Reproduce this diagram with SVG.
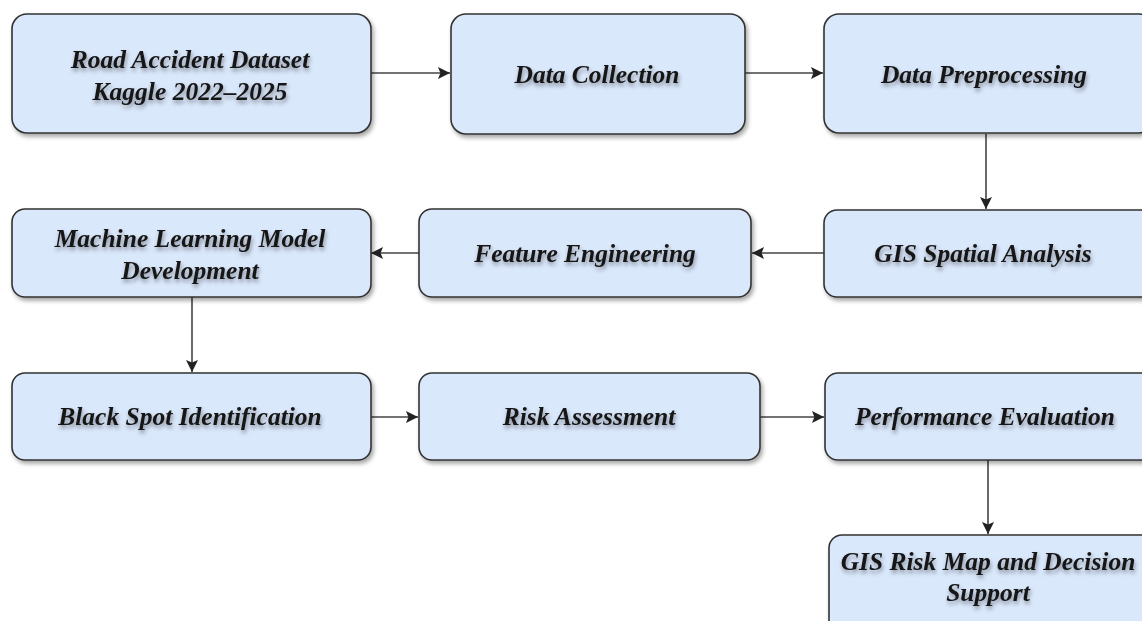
<svg xmlns="http://www.w3.org/2000/svg" width="1142" height="621" viewBox="0 0 1142 621">
<defs>
<filter id="bs" x="-5%" y="-10%" width="115%" height="130%">
<feDropShadow dx="2" dy="3" stdDeviation="2" flood-color="#000" flood-opacity="0.35"/>
</filter>
<filter id="ts" x="-5%" y="-20%" width="110%" height="160%">
<feDropShadow dx="1" dy="3" stdDeviation="2" flood-color="#000" flood-opacity="0.4"/>
</filter>
<marker id="ah" viewBox="0 0 10 10" refX="10" refY="5" markerWidth="12" markerHeight="12" markerUnits="userSpaceOnUse" orient="auto">
<path d="M0,0 L10,5 L0,10 L2,5 z" fill="#222"/>
</marker>
</defs>
<style>
.box{fill:#dae8fc;stroke:#333;stroke-width:1.6;filter:url(#bs)}
.lbl{font-family:"Liberation Serif","Times New Roman",serif;font-weight:bold;font-style:italic;font-size:25.5px;fill:#141414;text-anchor:middle;filter:url(#ts)}
.edge{fill:none;stroke:#444;stroke-width:1.6;marker-end:url(#ah)}
</style>
<rect width="1142" height="621" fill="#fff"/>
<g id="connectors">
<path class="edge" d="M371,73 L450,73"/>
<path class="edge" d="M745,73 L823,73"/>
<path class="edge" d="M986,134 L986,209"/>
<path class="edge" d="M824,253 L752,253"/>
<path class="edge" d="M419,253 L371,253"/>
<path class="edge" d="M192,297 L192,372"/>
<path class="edge" d="M371,417 L418,417"/>
<path class="edge" d="M760,417 L824,417"/>
<path class="edge" d="M988,460 L988,534"/>
</g>
<g id="n1"><rect class="box" x="12" y="14" width="359" height="119" rx="15"/>
<text class="lbl" x="190" y="68">Road Accident Dataset</text><text class="lbl" x="190" y="100">Kaggle 2022–2025</text></g>
<g id="n2"><rect class="box" x="451" y="14" width="294" height="120" rx="15"/>
<text class="lbl" x="597" y="83">Data Collection</text></g>
<g id="n3"><rect class="box" x="824" y="14" width="330" height="119" rx="15"/>
<text class="lbl" x="984" y="83">Data Preprocessing</text></g>
<g id="n4"><rect class="box" x="824" y="210" width="330" height="87" rx="13"/>
<text class="lbl" x="983" y="262">GIS Spatial Analysis</text></g>
<g id="n5"><rect class="box" x="419" y="209" width="332" height="88" rx="13"/>
<text class="lbl" x="585" y="262">Feature Engineering</text></g>
<g id="n6"><rect class="box" x="12" y="209" width="359" height="88" rx="13"/>
<text class="lbl" x="190" y="247">Machine Learning Model</text><text class="lbl" x="190" y="279">Development</text></g>
<g id="n7"><rect class="box" x="12" y="373" width="359" height="87" rx="13"/>
<text class="lbl" x="190" y="425">Black Spot Identification</text></g>
<g id="n8"><rect class="box" x="419" y="373" width="341" height="87" rx="13"/>
<text class="lbl" x="589" y="425">Risk Assessment</text></g>
<g id="n9"><rect class="box" x="825" y="373" width="330" height="87" rx="13"/>
<text class="lbl" x="985" y="425">Performance Evaluation</text></g>
<g id="n10"><rect class="box" x="829" y="535" width="326" height="100" rx="13"/>
<text class="lbl" x="988" y="570">GIS Risk Map and Decision</text><text class="lbl" x="988" y="601">Support</text></g>
</svg>
